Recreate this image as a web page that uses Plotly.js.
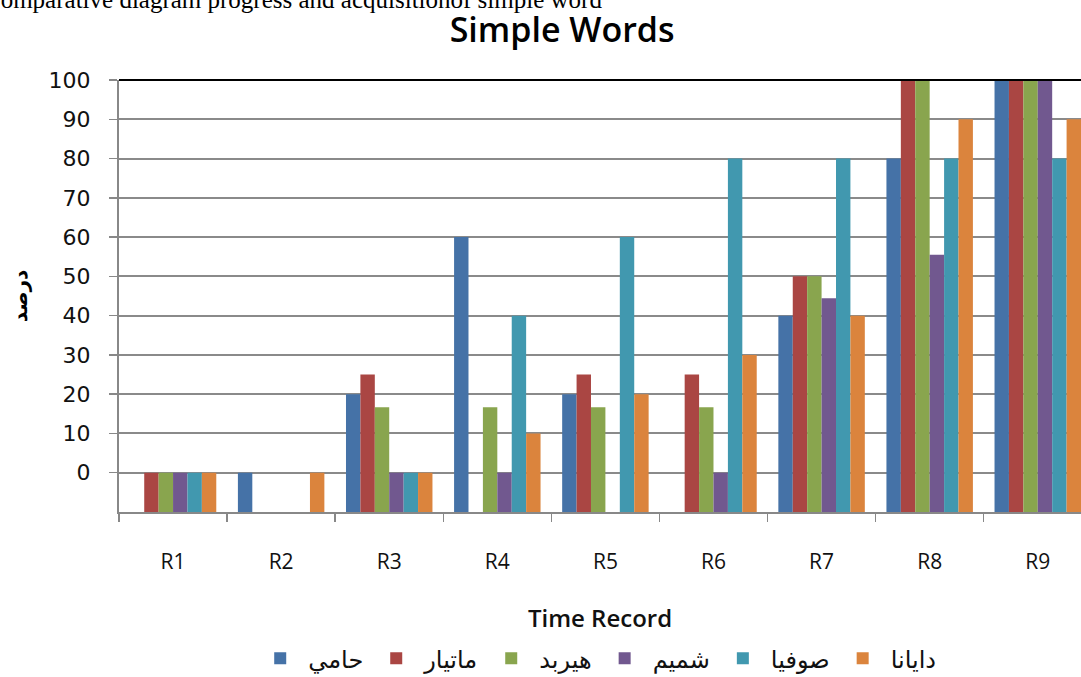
<!DOCTYPE html>
<html>
<head>
<meta charset="utf-8">
<script src="https://cdn.plot.ly/plotly-3.0.1.min.js"></script>
<style>html,body{margin:0;padding:0;background:#fff;overflow:hidden}</style>
</head>
<body>
<div id="chart" style="width:1081px;height:677px"></div>
<script>
const categories = ["R1","R2","R3","R4","R5","R6","R7","R8","R9"];
const seriesNames = ["حامي","ماتيار","هيربد","شميم","صوفيا","دايانا"];
const hami    = [null, 0,   20,   60,   20,   null, 40,   80,   100];
const matyar  = [0,    null,25,   null, 25,   25,   50,   100,  100];
const hirbod  = [0,    null,16.7, 16.7, 16.7, 16.7, 50,   100,  100];
const shamim  = [0,    null,0,    0,    null, 0,    44.4, 55.5, 100];
const sofia   = [0,    null,0,    40,   60,   80,   80,   80,   80];
const dayana  = [0,    0,   0,    10,   20,   30,   40,   90,   90];
const yTickVals = [0,10,20,30,40,50,60,70,80,90,100];
const BASE = -10;

const seriesValues = [hami, matyar, hirbod, shamim, sofia, dayana];
const colors = ["#4572A7","#AA4643","#89A54E","#71588F","#4198AF","#DB843D"];

const traces = seriesValues.map((vals, i) => ({
  type: "bar",
  name: seriesNames[i],
  x: categories,
  y: vals.map(v => v === null ? null : v - BASE),
  base: BASE,
  customdata: vals,
  hovertemplate: "%{x}: %{customdata}<extra>" + seriesNames[i] + "</extra>",
  marker: {color: colors[i], line: {width: 0}}
}));

const layout = {
  width: 1081, height: 677,
  margin: {l: 119, r: 0, t: 80, b: 165},
  paper_bgcolor: "#fff", plot_bgcolor: "#fff",
  barmode: "group", bargap: 0.2, bargroupgap: 0,
  title: {
    text: "Simple Words",
    font: {family: "Open Sans, sans-serif", size: 34, weight: 600, color: "#000"},
    x: 0.52, xanchor: "center", xref: "container",
    y: 0.955, yanchor: "middle", yref: "container"
  },
  xaxis: {
    type: "category",
    range: [-0.5, 8.4],
    tickson: "boundaries",
    ticks: "outside", ticklen: 8, tickwidth: 1.5, tickcolor: "#888",
    showline: true, linecolor: "#888", linewidth: 2,
    showgrid: false,
    ticklabelstandoff: 30,
    tickfont: {family: "Open Sans, sans-serif", size: 21, color: "#111"},
    title: {text: "Time Record", standoff: 36,
            font: {family: "Open Sans, sans-serif", size: 24, weight: 600, color: "#111"}}
  },
  yaxis: {
    range: [-10, 100],
    tickmode: "array", tickvals: yTickVals, ticktext: yTickVals.map(String),
    ticks: "outside", ticklen: 8, tickwidth: 1.5, tickcolor: "#888",
    showline: true, linecolor: "#888", linewidth: 2,
    showgrid: true, gridcolor: "#8a8a8a", gridwidth: 2,
    zeroline: false,
    ticklabelstandoff: 14,
    tickfont: {family: "DejaVu Sans, sans-serif", size: 22, color: "#111"},
    title: {text: "<b>درصد</b>", standoff: 16,
            font: {family: "DejaVu Sans, sans-serif", size: 20, color: "#000"}}
  },
  legend: {
    orientation: "h",
    xref: "container", x: 0.552, xanchor: "center",
    yref: "container", y: 0.027, yanchor: "middle",
    font: {family: "DejaVu Sans, sans-serif", size: 24, color: "#111"},
    itemwidth: 46,
    traceorder: "normal"
  },
  shapes: [{type: "line", xref: "paper", yref: "paper", x0: 0, x1: 1, y0: 1, y1: 1,
            line: {color: "#000", width: 2}}],
  annotations: [{
    text: "Comparative diagram progress and acquisitionof simple word",
    xref: "paper", yref: "paper", x: -0.142, y: 1.186,
    xanchor: "left", yanchor: "middle", showarrow: false,
    font: {family: "Liberation Serif, serif", size: 25, color: "#000"}
  }],
  showlegend: true
};

Plotly.newPlot("chart", traces, layout, {displayModeBar: false, staticPlot: true});
</script>
</body>
</html>
